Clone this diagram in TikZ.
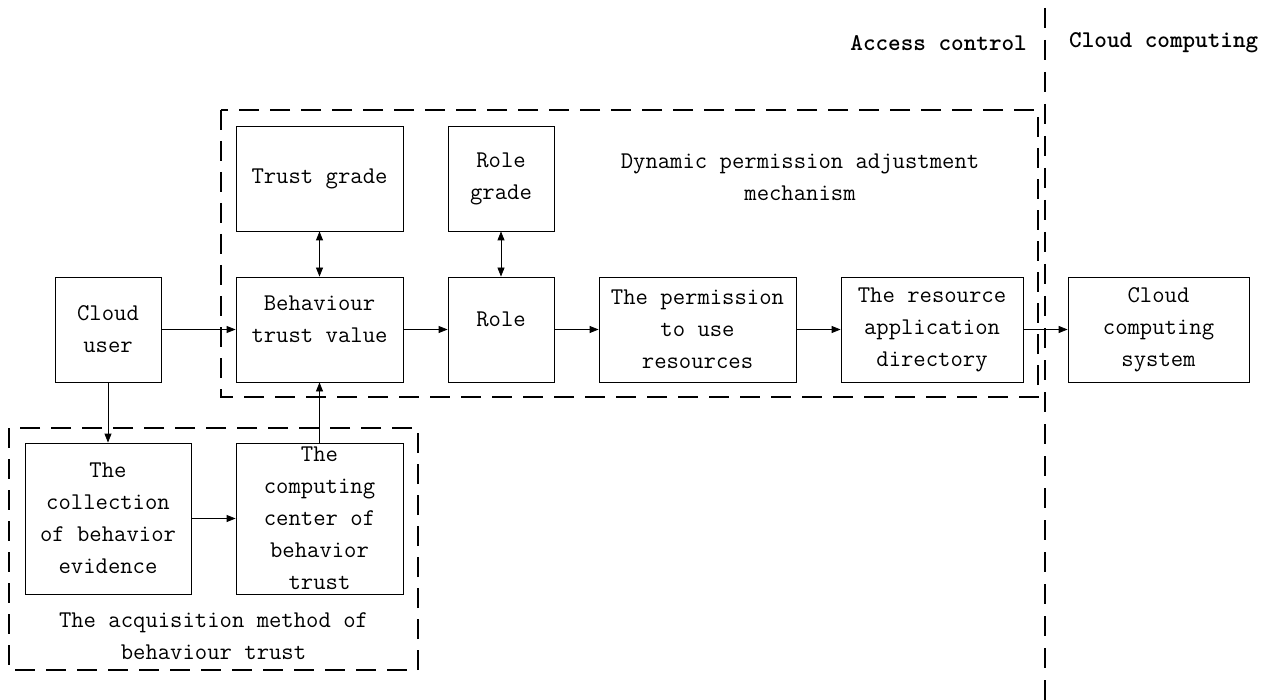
\documentclass[tikz,border=0pt]{standalone}
\usepackage{fontspec}
\usetikzlibrary{arrows.meta}
\begin{document}
\begin{tikzpicture}[x=1pt,y=-1pt,
  boxtxt/.style={font=\ttfamily\fontsize{24}{32}\selectfont},
  blk/.style={draw, line width=0.8pt, inner sep=0pt, align=center, boxtxt},
  grp/.style={draw, line width=2.4pt, dash pattern=on 20pt off 11pt},
  arr/.style={line width=0.8pt, -{Triangle[length=9pt,width=7pt]}},
  darr/.style={line width=0.8pt, {Triangle[length=9pt,width=7pt]}-{Triangle[length=9pt,width=7pt]}},
  lbl/.style={align=center, boxtxt, inner sep=0pt}]
\useasboundingbox (0,0) rectangle (1273,700);

% group boxes
\draw[grp] (221,110) rectangle (1038,397);
\draw[grp] (9,428) rectangle (418,670);
\coordinate (vtop) at (1045,8);
\coordinate (vbot) at (1045,700);
\draw[line width=2.4pt, dash pattern=on 20pt off 12pt] (vtop) -- (vbot);

% headers
\node[boxtxt, font=\ttfamily\bfseries\fontsize{24}{32}\selectfont, anchor=east, inner sep=0pt] (hac) at (1027,43) {Access control};
\node[boxtxt, font=\ttfamily\bfseries\fontsize{24}{32}\selectfont, anchor=west, inner sep=0pt] (hcc) at (1069,43) {Cloud computing};

% group labels
\node[lbl] (dynl) at (800,177) {Dynamic permission adjustment\\mechanism};
\node[lbl] (acql) at (213.5,636) {The acquisition method of\\behaviour trust};

% blocks
\node[blk, minimum width=106pt, minimum height=105pt] (user) at (108,329.5) {Cloud\\user};
\node[blk, minimum width=167pt, minimum height=105pt,
      label={[lbl, yshift=10pt]center:Behaviour\\trust value}] (btv) at (319.5,329.5) {};
\node[blk, minimum width=167pt, minimum height=105pt] (tg) at (319.5,178.5) {Trust grade};
\node[blk, minimum width=106pt, minimum height=105pt] (rg) at (501,178.5) {Role\\grade};
\node[blk, minimum width=106pt, minimum height=105pt,
      label={[lbl, yshift=10pt]center:Role}] (role) at (501,329.5) {};
\node[blk, minimum width=197pt, minimum height=105pt] (perm) at (697.5,329.5) {The permission\\to use\\resources};
\node[blk, minimum width=182pt, minimum height=105pt] (res) at (932,329.5) {The resource\\application\\directory};
\node[blk, minimum width=181pt, minimum height=105pt] (ccs) at (1158.5,329.5) {Cloud\\computing\\system};
\node[blk, minimum width=166pt, minimum height=151pt] (coll) at (108,518.5) {The\\collection\\of behavior\\evidence};
\node[blk, minimum width=167pt, minimum height=151pt] (comp) at (319.5,518.5) {The\\computing\\center of\\behavior\\trust};

% connectors
\draw[arr] (user) -- (btv);
\draw[arr] (btv) -- (role);
\draw[arr] (role) -- (perm);
\draw[arr] (perm) -- (res);
\draw[arr] (res) -- (ccs);
\draw[darr] (tg) -- (btv);
\draw[darr] (rg) -- (role);
\draw[arr] (user) -- (coll);
\draw[arr] (coll) -- (comp);
\draw[arr] (comp) -- (btv);
\end{tikzpicture}
\end{document}
